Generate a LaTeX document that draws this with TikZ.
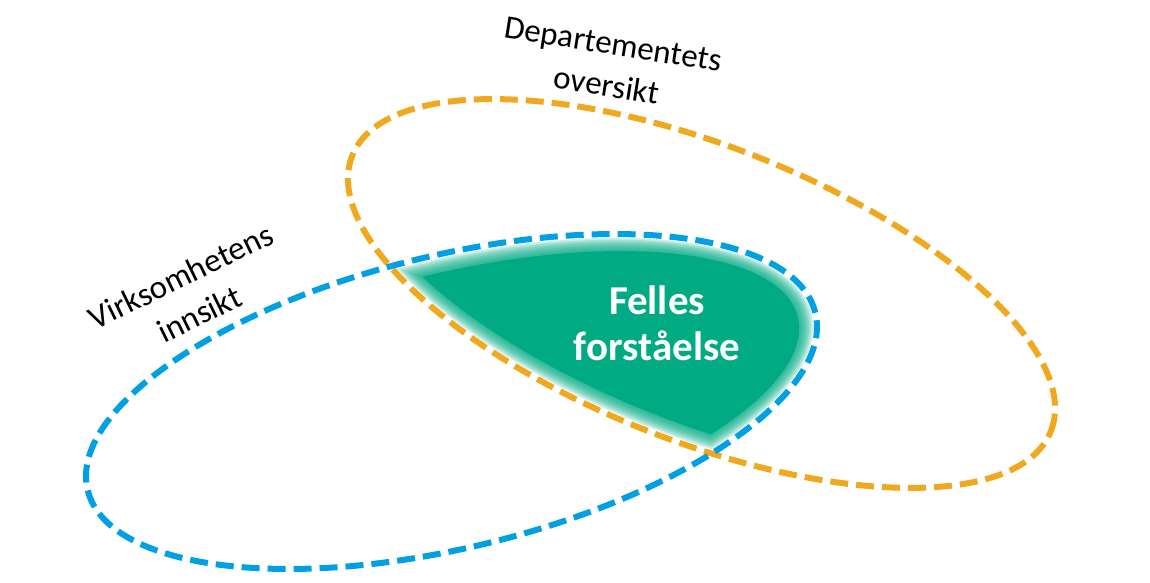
\documentclass[tikz,border=0pt]{standalone}
\usepackage{fontspec}
\setmainfont{Carlito}
\definecolor{orangeC}{RGB}{240,168,30}
\definecolor{blueC}{RGB}{0,160,227}
\definecolor{greenC}{RGB}{0,170,131}
\begin{document}
\begin{tikzpicture}[x=1pt,y=1pt,
  dashring/.style={line width=6pt, dash pattern=on 18pt off 8pt},
  lbltext/.style={font=\fontsize{33}{42}\selectfont, align=center, text=black, inner sep=0pt},
  titletext/.style={font=\fontsize{41}{46}\selectfont\bfseries, align=center, text=white, inner sep=0pt}]
\useasboundingbox (0,0) rectangle (1150,582);
% blurred green common region
\foreach \d/\op in {4/0.2,6/0.2,8/0.2,10/0.2,12/0.2,14/0.2,16/0.2,18/1} {
  \begin{scope}
    \clip[rotate around={-21.5:(701.5,288.5)}] (701.5,288.5) ellipse [x radius=375.5pt-\d pt, y radius=147.6pt-\d pt];
    \fill[greenC, opacity=\op, rotate around={13.7:(451.5,180.5)}] (451.5,180.5) ellipse [x radius=374.5pt-\d pt, y radius=146.2pt-\d pt];
  \end{scope}
}
% ellipses
\draw[dashring, orangeC, rotate around={-21.5:(701.5,288.5)}] (701.5,288.5) ellipse [x radius=375.5pt, y radius=147.6pt];
\draw[dashring, blueC, rotate around={13.7:(451.5,180.5)}] (451.5,180.5) ellipse [x radius=374.5pt, y radius=146.2pt];
% texts
\node[titletext] (felles) at (657,259) {Felles\\forståelse};
\node[lbltext, rotate=-9] (dep) at (610,517) {Departementets\\oversikt};
\node[lbltext, rotate=26] (virk) at (190,287) {Virksomhetens\\innsikt};
\end{tikzpicture}
\end{document}
